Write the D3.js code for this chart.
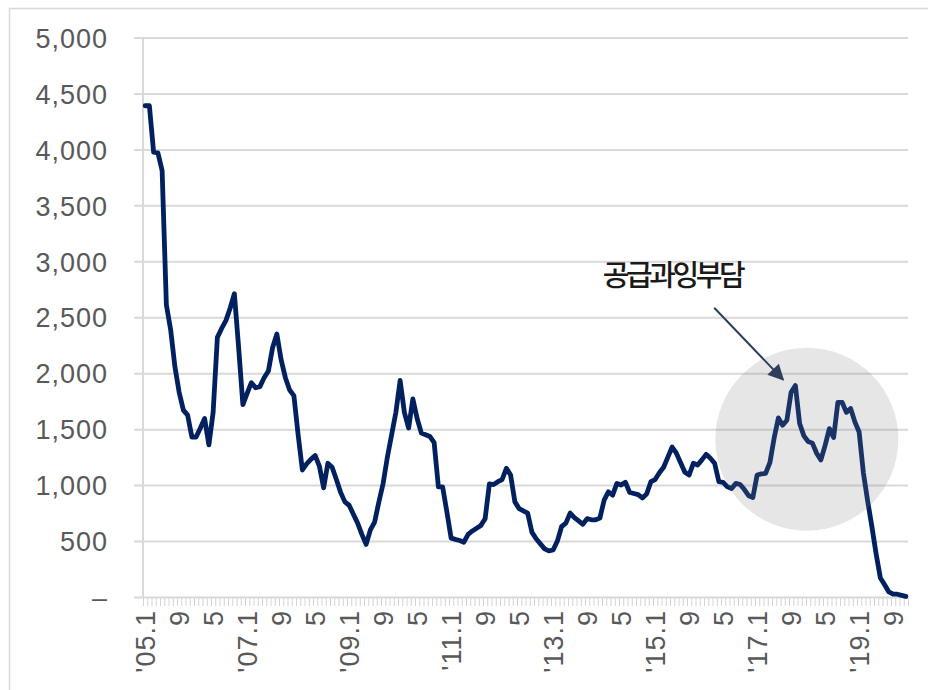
<!DOCTYPE html>
<html>
<head>
<meta charset="utf-8">
<script src="https://cdn.jsdelivr.net/npm/d3@7/dist/d3.min.js"></script>
<style>
  html, body { margin: 0; padding: 0; background: #ffffff; }
  svg { display: block; }
  .num { font-family: "Liberation Sans", Arial, sans-serif; font-size: 27px; fill: #595959; letter-spacing: 1px; }
</style>
</head>
<body>
<svg id="chart" width="928" height="690"></svg>
<script>
// Monthly series, Jan 2005 – Dec 2019 (one array per year)
const startYear = 2005;
const v2005 = [4390, 4390, 3975, 3970, 3810, 2610, 2390, 2060, 1830, 1670, 1625, 1430];
const v2006 = [1430, 1510, 1595, 1360, 1650, 2320, 2400, 2470, 2580, 2710, 2230, 1720];
const v2007 = [1820, 1915, 1870, 1880, 1960, 2020, 2230, 2350, 2120, 1960, 1850, 1800];
const v2008 = [1450, 1135, 1190, 1230, 1265, 1170, 975, 1195, 1160, 1050, 935, 850];
const v2009 = [820, 740, 660, 560, 470, 600, 670, 850, 1015, 1250, 1450, 1650];
const v2010 = [1935, 1650, 1510, 1770, 1595, 1465, 1450, 1435, 1380, 985, 985, 760];
const v2011 = [526, 515, 505, 490, 560, 590, 615, 640, 700, 1010, 1005, 1030];
const v2012 = [1050, 1150, 1090, 850, 790, 770, 750, 580, 520, 475, 430, 412];
const v2013 = [420, 500, 630, 660, 750, 710, 680, 650, 700, 690, 690, 705];
const v2014 = [865, 940, 910, 1015, 1000, 1025, 935, 925, 915, 885, 920, 1030];
const v2015 = [1050, 1110, 1160, 1250, 1340, 1285, 1200, 1115, 1090, 1195, 1180, 1225];
const v2016 = [1275, 1240, 1195, 1030, 1025, 985, 970, 1015, 1005, 960, 905, 890];
const v2017 = [1090, 1100, 1105, 1200, 1420, 1600, 1535, 1580, 1830, 1890, 1550, 1440];
const v2018 = [1390, 1375, 1285, 1225, 1355, 1505, 1425, 1740, 1740, 1650, 1685, 1565];
const v2019 = [1475, 1110, 860, 630, 385, 170, 110, 45, 25, 25, 15, 5];

const values = [].concat(v2005, v2006, v2007, v2008, v2009, v2010, v2011, v2012,
                         v2013, v2014, v2015, v2016, v2017, v2018, v2019);

// Category keys "YYYY-MM"
const months = values.map((_, i) => {
  const yr = startYear + Math.floor(i / 12), m = i % 12 + 1;
  return yr + "-" + String(m).padStart(2, "0");
});

// Axis ticks and labels
const yTickValues = [0, 500, 1000, 1500, 2000, 2500, 3000, 3500, 4000, 4500, 5000];
const xLabelMonths = ["2005-01", "2005-09", "2006-05", "2007-01", "2007-09", "2008-05",
                      "2009-01", "2009-09", "2010-05", "2011-01", "2011-09", "2012-05",
                      "2013-01", "2013-09", "2014-05", "2015-01", "2015-09", "2016-05",
                      "2017-01", "2017-09", "2018-05", "2019-01", "2019-09"];
const xLabelTexts = ["'05.1", "9", "5", "'07.1", "9", "5", "'09.1", "9", "5", "'11.1", "9", "5",
                     "'13.1", "9", "5", "'15.1", "9", "5", "'17.1", "9", "5", "'19.1", "9"];

// Callout: shaded circle, arrow and caption (positions in month index / value units)
const calloutText = "공급과잉부담";
const calloutCircle = { pos: 156.2, value: 1410 };
const calloutArrowFrom = { pos: 134.4, value: 2585 };
const calloutArrowTo = { pos: 150.6, value: 1943 };
const calloutLabel = { pos: 124.6, value: 2775 };

const W = 928, H = 690;
const plot = { left: 143, right: 908, top: 37.5, bottom: 597 };
const svg = d3.select("#chart");

// Outer frame
svg.append("rect")
  .attr("x", 9.5).attr("y", 8.5).attr("width", W).attr("height", H)
  .attr("fill", "none").attr("stroke", "#d9d9d9").attr("stroke-width", 1.5);

const x = d3.scaleBand().domain(months).range([plot.left, plot.right]);
const xPos = d3.scaleLinear().domain([0, months.length]).range([plot.left, plot.right]);
const y = d3.scaleLinear().domain([0, 5000]).range([plot.bottom, plot.top]);

// Y axis with horizontal gridlines
const gridLeft = 134;
const yAxis = d3.axisLeft(y)
  .tickValues(yTickValues)
  .tickSizeInner(-(plot.right - gridLeft))
  .tickSizeOuter(0)
  .tickPadding(26)
  .tickFormat(d => d === 0 ? "–" : d3.format(",")(d));
const gy = svg.append("g").attr("transform", `translate(${gridLeft},0)`).call(yAxis);
gy.select(".domain").remove();
gy.selectAll(".tick line").attr("stroke", "#d9d9d9").attr("stroke-width", 2);
gy.selectAll(".tick text").attr("class", "num").attr("dy", "0.36em");

// Vertical axis line
svg.append("line")
  .attr("x1", plot.left).attr("x2", plot.left)
  .attr("y1", y(5000)).attr("y2", y(0))
  .attr("stroke", "#d9d9d9").attr("stroke-width", 2);

// Monthly tick marks under the category axis
const xTicks = d3.axisBottom(xPos)
  .tickValues(d3.range(months.length + 1))
  .tickSize(8).tickFormat("");
const gx = svg.append("g").attr("transform", `translate(0,${plot.bottom + 1})`).call(xTicks);
gx.select(".domain").remove();
gx.selectAll(".tick line").attr("stroke", "#d4d4d4").attr("stroke-width", 1);

// Rotated category labels
svg.append("g").selectAll("text")
  .data(xLabelMonths.map((m, i) => ({ m, t: xLabelTexts[i] })))
  .join("text")
  .attr("class", "num")
  .attr("text-anchor", "end")
  .attr("transform", d => `translate(${x(d.m) + x.bandwidth() / 2},610) rotate(-90)`)
  .attr("dy", "0.36em")
  .text(d => d.t);

// Series line
const line = d3.line()
  .x((d, i) => x(months[i]) + x.bandwidth() / 2)
  .y(d => y(d));
svg.append("path")
  .datum(values)
  .attr("d", line)
  .attr("fill", "none")
  .attr("stroke", "#002060")
  .attr("stroke-width", 4.8)
  .attr("stroke-linejoin", "round")
  .attr("stroke-linecap", "round");

// Shaded highlight over the late-period peaks
svg.append("circle")
  .attr("cx", xPos(calloutCircle.pos))
  .attr("cy", y(calloutCircle.value))
  .attr("r", 91.5)
  .attr("fill", "#808080")
  .attr("fill-opacity", 0.2);

// Arrow
const defs = svg.append("defs");
defs.append("marker")
  .attr("id", "arrowHead")
  .attr("viewBox", "0 0 10 10")
  .attr("refX", 9).attr("refY", 5)
  .attr("markerWidth", 9).attr("markerHeight", 8)
  .attr("markerUnits", "strokeWidth")
  .attr("orient", "auto")
  .append("path").attr("d", "M0,0 L10,5 L0,10 Z").attr("fill", "#2e3f5c");

svg.append("line")
  .attr("x1", xPos(calloutArrowFrom.pos)).attr("y1", y(calloutArrowFrom.value))
  .attr("x2", xPos(calloutArrowTo.pos)).attr("y2", y(calloutArrowTo.value))
  .attr("stroke", "#2e3f5c").attr("stroke-width", 2)
  .attr("marker-end", "url(#arrowHead)");

svg.append("text")
  .attr("x", xPos(calloutLabel.pos))
  .attr("y", y(calloutLabel.value))
  .attr("text-anchor", "middle")
  .attr("font-family", "'Noto Sans CJK KR', 'Noto Sans', sans-serif")
  .attr("font-size", 29)
  .attr("font-weight", 500)
  .attr("letter-spacing", "-3.4px")
  .attr("fill", "#1a1a1a")
  .text(calloutText);
</script>
</body>
</html>
